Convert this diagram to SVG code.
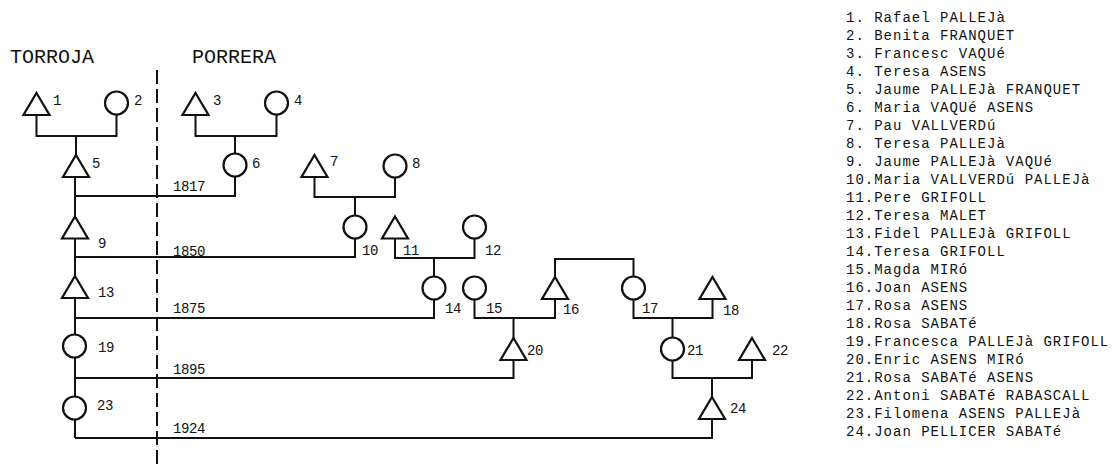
<svg xmlns="http://www.w3.org/2000/svg" xmlns:xlink="http://www.w3.org/1999/xlink" width="1115" height="465" viewBox="0 0 1115 465">
<style>
.sh{fill:none;stroke:#111;stroke-width:2.2}
.ln{fill:none;stroke:#111;stroke-width:2}
.dash{fill:none;stroke:#111;stroke-width:2;stroke-dasharray:14 5}
.lb{font-family:"Liberation Mono","DejaVu Sans Mono",monospace;font-size:14px;letter-spacing:-0.4px;fill:#111}
.yr{font-family:"Liberation Mono","DejaVu Sans Mono",monospace;font-size:14px;letter-spacing:-0.4px;fill:#111}
.hd{font-family:"Liberation Mono","DejaVu Sans Mono",monospace;font-size:20px;fill:#111}
.lg{font-family:"Liberation Mono","DejaVu Sans Mono",monospace;font-size:14px;letter-spacing:1px;fill:#111}
</style>
<defs>
<path id="tri" class="sh" d="M0,-11 L13,11 L-13,11 Z"/>
<circle id="cir" class="sh" r="11.5"/>
</defs>
<rect width="1115" height="465" fill="#fff"/>
<g id="headers">
<text class="hd" x="10" y="63">TORROJA</text>
<text class="hd" x="192" y="63">PORRERA</text>
<path class="dash" d="M157,70 V465"/>
</g>
<g id="connectors">
<path class="ln" d="M36.5,115 V136 H116.5 V114.5 M76,136 V155"/>
<path class="ln" d="M195.5,115 V136 H276.5 V114.5 M235,136 V153"/>
<path class="ln" d="M75,177 V217 M75,238 V276 M75,298 V334.5 M75,357.5 V396 M75,420 V438"/>
<path class="ln" d="M75,196 H235 V177"/>
<path class="ln" d="M314.5,177 V197 H395 V177.5 M355,197 V215.5"/>
<path class="ln" d="M75,257 H355 V238.5"/>
<path class="ln" d="M395,239 V258 H474.5 V238.5 M434,258 V276.5"/>
<path class="ln" d="M75,318 H434 V299.5"/>
<path class="ln" d="M474.5,299.5 V318 H555 V298 M513.5,318 V338"/>
<path class="ln" d="M555,277 V259 H633.5 V276.5"/>
<path class="ln" d="M633.5,299.5 V318 H712.5 V298 M672.5,318 V337.5"/>
<path class="ln" d="M75,378 H513.5 V360"/>
<path class="ln" d="M672.5,360.5 V378 H752 V360 M712,378 V397"/>
<path class="ln" d="M75,438 H712 V419"/>
<text class="yr" x="173" y="191">1817</text>
<text class="yr" x="173" y="256">1850</text>
<text class="yr" x="173" y="313">1875</text>
<text class="yr" x="173" y="374">1895</text>
<text class="yr" x="173" y="433">1924</text>
</g>
<g id="n1"><use xlink:href="#tri" x="36.5" y="104"/><text class="lb" x="53" y="105">1</text></g>
<g id="n2"><use xlink:href="#cir" x="116.5" y="103"/><text class="lb" x="134" y="105">2</text></g>
<g id="n3"><use xlink:href="#tri" x="195.5" y="104"/><text class="lb" x="213" y="105">3</text></g>
<g id="n4"><use xlink:href="#cir" x="276.5" y="103"/><text class="lb" x="294" y="105">4</text></g>
<g id="n5"><use xlink:href="#tri" x="76" y="166"/><text class="lb" x="92" y="168">5</text></g>
<g id="n6"><use xlink:href="#cir" x="235" y="165"/><text class="lb" x="252" y="168">6</text></g>
<g id="n7"><use xlink:href="#tri" x="314.5" y="166"/><text class="lb" x="330" y="166">7</text></g>
<g id="n8"><use xlink:href="#cir" x="395" y="166"/><text class="lb" x="412" y="168">8</text></g>
<g id="n9"><use xlink:href="#tri" x="75" y="227.5"/><text class="lb" x="98" y="248">9</text></g>
<g id="n10"><use xlink:href="#cir" x="355" y="227"/><text class="lb" x="362" y="255">10</text></g>
<g id="n11"><use xlink:href="#tri" x="395" y="227.5"/><text class="lb" x="403" y="255">11</text></g>
<g id="n12"><use xlink:href="#cir" x="474.5" y="227"/><text class="lb" x="485" y="255">12</text></g>
<g id="n13"><use xlink:href="#tri" x="75" y="287"/><text class="lb" x="98" y="297">13</text></g>
<g id="n14"><use xlink:href="#cir" x="434" y="288"/><text class="lb" x="445" y="313">14</text></g>
<g id="n15"><use xlink:href="#cir" x="474.5" y="288"/><text class="lb" x="486" y="313">15</text></g>
<g id="n16"><use xlink:href="#tri" x="555" y="288"/><text class="lb" x="563" y="314">16</text></g>
<g id="n17"><use xlink:href="#cir" x="633.5" y="288"/><text class="lb" x="642" y="313">17</text></g>
<g id="n18"><use xlink:href="#tri" x="712.5" y="288"/><text class="lb" x="723" y="315">18</text></g>
<g id="n19"><use xlink:href="#cir" x="74.5" y="346"/><text class="lb" x="98" y="352">19</text></g>
<g id="n20"><use xlink:href="#tri" x="513.5" y="349"/><text class="lb" x="527" y="355">20</text></g>
<g id="n21"><use xlink:href="#cir" x="672.5" y="349"/><text class="lb" x="687" y="355">21</text></g>
<g id="n22"><use xlink:href="#tri" x="752" y="349"/><text class="lb" x="772" y="355">22</text></g>
<g id="n23"><use xlink:href="#cir" x="74.5" y="408"/><text class="lb" x="97" y="410">23</text></g>
<g id="n24"><use xlink:href="#tri" x="712" y="408"/><text class="lb" x="730" y="413">24</text></g>
<g id="legend">
<text class="lg" x="846" y="22">1. Rafael PALLEJà</text>
<text class="lg" x="846" y="40">2. Benita FRANQUET</text>
<text class="lg" x="846" y="58">3. Francesc VAQUé</text>
<text class="lg" x="846" y="76">4. Teresa ASENS</text>
<text class="lg" x="846" y="94">5. Jaume PALLEJà FRANQUET</text>
<text class="lg" x="846" y="112">6. Maria VAQUé ASENS</text>
<text class="lg" x="846" y="130">7. Pau VALLVERDú</text>
<text class="lg" x="846" y="148">8. Teresa PALLEJà</text>
<text class="lg" x="846" y="166">9. Jaume PALLEJà VAQUé</text>
<text class="lg" x="846" y="184">10.Maria VALLVERDú PALLEJà</text>
<text class="lg" x="846" y="202">11.Pere GRIFOLL</text>
<text class="lg" x="846" y="220">12.Teresa MALET</text>
<text class="lg" x="846" y="238">13.Fidel PALLEJà GRIFOLL</text>
<text class="lg" x="846" y="256">14.Teresa GRIFOLL</text>
<text class="lg" x="846" y="274">15.Magda MIRó</text>
<text class="lg" x="846" y="292">16.Joan ASENS</text>
<text class="lg" x="846" y="310">17.Rosa ASENS</text>
<text class="lg" x="846" y="328">18.Rosa SABATé</text>
<text class="lg" x="846" y="346">19.Francesca PALLEJà GRIFOLL</text>
<text class="lg" x="846" y="364">20.Enric ASENS MIRó</text>
<text class="lg" x="846" y="382">21.Rosa SABATé ASENS</text>
<text class="lg" x="846" y="400">22.Antoni SABATé RABASCALL</text>
<text class="lg" x="846" y="418">23.Filomena ASENS PALLEJà</text>
<text class="lg" x="846" y="436">24.Joan PELLICER SABATé</text>
</g>
</svg>
